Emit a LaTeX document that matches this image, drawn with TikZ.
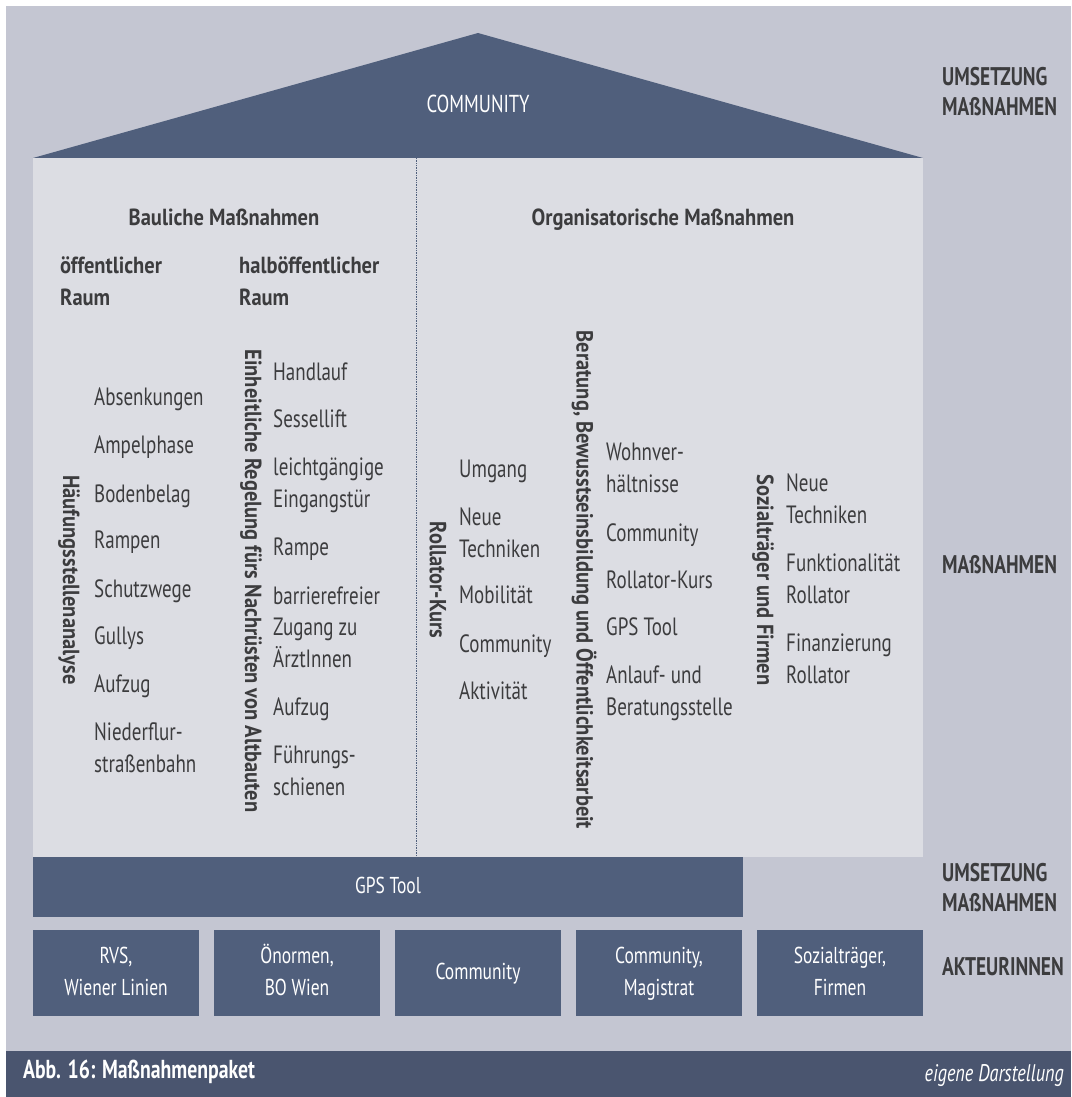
\documentclass[tikz,border=0pt]{standalone}
\usepackage{fontspec}
\setmainfont{PT Sans}[FakeStretch=0.76]
\newfontfamily\hdfont{PT Sans}[FakeStretch=0.88]
\definecolor{bg}{RGB}{196,198,210}
\definecolor{wall}{RGB}{220,221,227}
\definecolor{slate}{RGB}{80,95,124}
\definecolor{capbar}{RGB}{74,85,111}
\definecolor{ink}{RGB}{60,60,62}
\tikzset{
  item/.style={anchor=base west, inner sep=0pt, text=ink, align=left,
    font=\fontsize{25}{31.5}\selectfont},
  head/.style={inner sep=0pt, text=ink, align=left,
    font=\hdfont\bfseries\fontsize{23.3}{32}\selectfont},
  vlabel/.style={rotate=-90, anchor=center, inner sep=0pt, text=ink,
    font=\hdfont\bfseries\fontsize{23.3}{28}\selectfont},
  side/.style={anchor=base west, inner sep=0pt, text=ink,
    font=\bfseries\fontsize{25.5}{30}\selectfont},
  slatebox/.style={fill=slate, text=white, align=center, inner sep=0pt,
    font=\fontsize{23}{32}\selectfont},
}
\begin{document}
\begin{tikzpicture}[x=1pt,y=-1pt]
\useasboundingbox (0,0) rectangle (1071,1097);
\fill[white] (0,0) rectangle (1071,1097);
\fill[bg] (6,6) rectangle (1071,1051);
\fill[capbar] (6,1051) rectangle (1071,1097);

% house: roof, walls and the dividing line
\coordinate (roofL) at (33,158);
\coordinate (roofT) at (478,33);
\coordinate (roofR) at (923,158);
\fill[slate] (roofL) -- (roofT) -- (roofR) -- cycle;
\fill[wall] (33,158) rectangle (923,857);
\coordinate (divT) at (416,158);
\coordinate (divB) at (416,857);
\draw[slate, densely dotted, line width=0.7pt] (divT) -- (divB);
\node[text=white, font=\fontsize{24.5}{28}\selectfont, anchor=base] (community) at (478,113) {COMMUNITY};

% foundation and actors
\node[slatebox, minimum width=710, minimum height=60] (gps) at (388,887) {\strut GPS Tool};
\node[slatebox, minimum width=166, minimum height=86] (a1) at (116,973) {\strut RVS,\\\strut Wiener Linien};
\node[slatebox, minimum width=166, minimum height=86] (a2) at (297,973) {\strut Önormen,\\\strut BO Wien};
\node[slatebox, minimum width=166, minimum height=86] (a3) at (478,973) {\strut Community};
\node[slatebox, minimum width=166, minimum height=86] (a4) at (659,973) {\strut Community,\\\strut Magistrat};
\node[slatebox, minimum width=166, minimum height=86] (a5) at (840,973) {\strut Sozialträger,\\\strut Firmen};

% levels on the right
\node[side, align=left] (lv1) at (942,116) {UMSETZUNG\\MAßNAHMEN};
\node[side] (lv2) at (942,573) {MAßNAHMEN};
\node[side, align=left] (lv3) at (942,911) {UMSETZUNG\\MAßNAHMEN};
\node[side] (lv4) at (942,975) {AKTEURINNEN};

% headings
\node[head, anchor=base] (hbau) at (224,225) {Bauliche Maßnahmen};
\node[head, anchor=base] (horg) at (663,225) {Organisatorische Maßnahmen};
\node[head, anchor=base west] (hpub) at (60,305) {öffentlicher\\Raum};
\node[head, anchor=base west] (hsemi) at (239,305) {halböffentlicher\\Raum};

% vertical group labels
\node[vlabel] (vA) at (69,580) {Häufungsstellenanalyse};
\node[vlabel] (vB) at (251,581) {Einheitliche Regelung fürs Nachrüsten von Altbauten};
\node[vlabel] (vC) at (438,580) {Rollator-Kurs};
\node[vlabel] (vD) at (584,580) {Beratung, Bewusstseinsbildung und Öffentlichkeitsarbeit};
\node[vlabel] (vE) at (763,580) {Sozialträger und Firmen};

% public space
\node[item] (a01) at (94,405) {Absenkungen};
\node[item] (a02) at (94,453) {Ampelphase};
\node[item] (a03) at (94,502) {Bodenbelag};
\node[item] (a04) at (94,548) {Rampen};
\node[item] (a05) at (94,597) {Schutzwege};
\node[item] (a06) at (94,644) {Gullys};
\node[item] (a07) at (94,692) {Aufzug};
\node[item] (a08) at (94,772) {Niederflur-\\straßenbahn};

% semi-public space
\node[item] (b01) at (273,380) {Handlauf};
\node[item] (b02) at (273,427) {Sessellift};
\node[item] (b03) at (273,507) {leichtgängige\\Eingangstür};
\node[item] (b04) at (273,555) {Rampe};
\node[item] (b05) at (273,667) {barrierefreier\\Zugang zu\\ÄrztInnen};
\node[item] (b06) at (273,715) {Aufzug};
\node[item] (b07) at (273,795) {Führungs-\\schienen};

% walker course
\node[item] (c01) at (459,477) {Umgang};
\node[item] (c02) at (459,557) {Neue\\Techniken};
\node[item] (c03) at (459,603) {Mobilität};
\node[item] (c04) at (459,652) {Community};
\node[item] (c05) at (459,699) {Aktivität};

% counselling and awareness
\node[item] (d01) at (606,492) {Wohnver-\\hältnisse};
\node[item] (d02) at (606,541) {Community};
\node[item] (d03) at (606,588) {Rollator-Kurs};
\node[item] (d04) at (606,635) {GPS Tool};
\node[item] (d05) at (606,715) {Anlauf- und\\Beratungsstelle};

% social agencies and companies
\node[item] (e01) at (786,523) {Neue\\Techniken};
\node[item] (e02) at (786,603) {Funktionalität\\Rollator};
\node[item] (e03) at (786,683) {Finanzierung\\Rollator};

% caption bar
\node[anchor=base west, inner sep=0pt, text=white, font=\bfseries\fontsize{26}{30}\selectfont] (cap) at (23,1078) {Abb. 16: Maßnahmenpaket};
\node[anchor=base east, inner sep=0pt, text=white, font=\itshape\fontsize{24}{28}\selectfont] (src) at (1064,1081) {eigene Darstellung};
\end{tikzpicture}
\end{document}
